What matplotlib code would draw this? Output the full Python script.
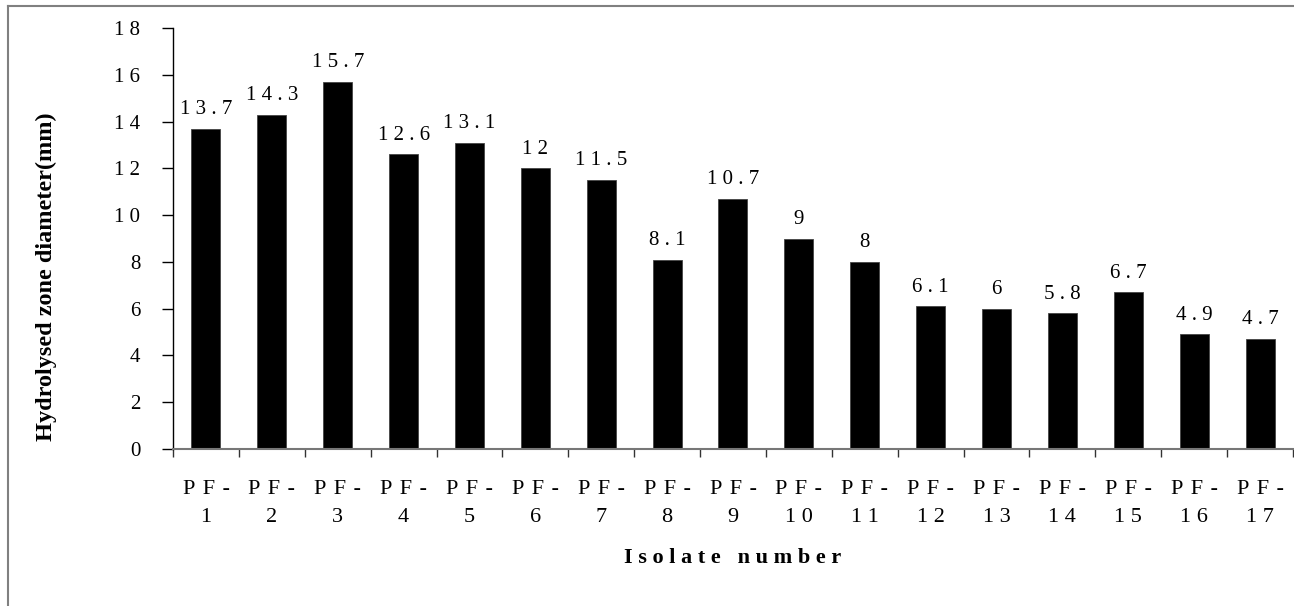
import matplotlib.pyplot as plt
from matplotlib.lines import Line2D

plt.rcParams['font.family'] = ['Liberation Serif', 'DejaVu Serif']

isolates = ["1", "2", "3", "4", "5", "6", "7", "8", "9", "10",
            "11", "12", "13", "14", "15", "16", "17"]
diameters = [13.7, 14.3, 15.7, 12.6, 13.1, 12, 11.5, 8.1, 10.7, 9,
             8, 6.1, 6, 5.8, 6.7, 4.9, 4.7]
y_ticks = [0, 2, 4, 6, 8, 10, 12, 14, 16, 18]


def spaced(s, gap=" "):
    # old-style spread-out lettering
    return gap.join(s)


fig = plt.figure(figsize=(12.94, 6.06), dpi=100)
ax = fig.add_axes([0.1337, 0.259, 0.8655, 0.6948])

x = list(range(len(isolates)))
ax.bar(x, diameters, width=0.44, color='black', edgecolor='#444444', linewidth=0.6)

for xi, v in zip(x, diameters):
    txt = f"{v:g}"
    ax.annotate(spaced(txt), (xi, v), xytext=(0, 7), textcoords='offset points',
                ha='center', va='bottom', fontsize=15)

ax.set_xlim(-0.5, len(isolates) - 0.5)
ax.set_ylim(0, 18)
ax.set_yticks(y_ticks)
ax.set_yticklabels([spaced(str(t)) for t in y_ticks], fontsize=15)

# category ticks sit between bars, labels at bar centres
ax.set_xticks([i - 0.5 for i in range(len(isolates) + 1)])
ax.set_xticklabels([])
ax.set_xticks(x, minor=True)
ax.set_xticklabels([spaced("PF-", "\u2004") + "\n" + spaced(n) for n in isolates],
                   minor=True, fontsize=16, linespacing=1.65)
ax.tick_params(axis='x', which='minor', length=0, pad=22)
ax.tick_params(axis='x', which='major', length=5.5, width=1, color='#333333', direction='out')
ax.tick_params(axis='y', length=8, width=1, direction='out', pad=15.5)

for side in ['top', 'right']:
    ax.spines[side].set_visible(False)
ax.spines['bottom'].set_color('#777777')
ax.spines['bottom'].set_linewidth(1.5)
ax.spines['left'].set_linewidth(1)

ax.set_ylabel("Hydrolysed zone diameter(mm)", fontsize=17.5, fontweight='bold')
ax.yaxis.set_label_coords(-0.1036, 0.409)
ax.set_xlabel("I s o l a t e   n u m b e r", fontsize=16, fontweight='bold')
ax.xaxis.set_label_coords(0.5, -0.235)

# outer frame
fig.add_artist(Line2D([8 / 1294, 1], [1 - 6 / 606, 1 - 6 / 606], transform=fig.transFigure,
                      color='#808080', linewidth=1.5))
fig.add_artist(Line2D([8 / 1294, 8 / 1294], [0, 1 - 6 / 606], transform=fig.transFigure,
                      color='#808080', linewidth=1.5))

fig.savefig("out.png", dpi=100)
